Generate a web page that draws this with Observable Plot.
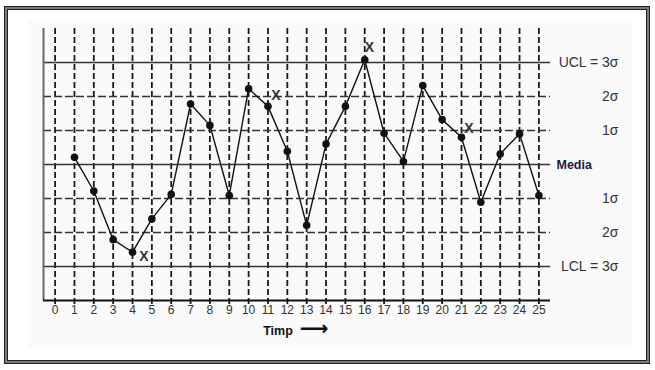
<!DOCTYPE html>
<html>
<head>
<meta charset="utf-8">
<script src="https://cdn.jsdelivr.net/npm/d3@7"></script>
<script src="https://cdn.jsdelivr.net/npm/@observablehq/plot@0.6"></script>
<style>
  html, body { margin: 0; padding: 0; background: #fff; }
  #wrap { position: relative; width: 655px; height: 370px; overflow: hidden; }
  #frame { position: absolute; left: 4px; top: 6px; width: 646px; height: 358px; box-sizing: border-box;
           border: 1px solid #222; background: #7a7a7a; padding: 2px; }
  #frame > div { width: 100%; height: 100%; box-sizing: border-box; border: 1px solid #222; background: #fff; }
  #paper { position: absolute; left: 28px; top: 21px; width: 604px; height: 326px; background: #fafafa; }
  #chart { position: absolute; left: 0; top: 0; }
</style>
</head>
<body>
<div id="wrap">
  <div id="frame"><div></div></div>
  <div id="paper"></div>
  <div id="chart"></div>
</div>
<script>
// ---- data ----
const times = [1,2,3,4,5,6,7,8,9,10,11,12,13,14,15,16,17,18,19,20,21,22,23,24,25];
const values = [0.21,-0.78,-2.21,-2.58,-1.6,-0.88,1.78,1.15,-0.91,2.23,1.71,0.39,-1.79,0.6,1.71,3.08,0.92,0.09,2.32,1.32,0.8,-1.11,0.31,0.9,-0.91];
const xTicks = [0,1,2,3,4,5,6,7,8,9,10,11,12,13,14,15,16,17,18,19,20,21,22,23,24,25];
const solidLevels = [3, 0, -3];
const dashedLevels = [2, 1, -1, -2];
const sigmaLevels = [3, 2, 1, -1, -2, -3];
const sigmaLabels = ["UCL = 3σ", "2σ", "1σ", "1σ", "2σ", "LCL = 3σ"];
const centerLevel = [0];
const centerLabel = ["Media"];
const flagT = [4.59, 11.41, 16.24, 21.39];
const flagV = [-2.7, 2.03, 3.45, 1.07];
const xLabel = "Timp";
const xDomain = [-0.6, 25.6];
const yDomain = [-4, 4];

const plot = Plot.plot({
  width: 655,
  height: 370,
  marginLeft: 43,
  marginRight: 105,
  marginTop: 28,
  marginBottom: 70,
  style: {background: "transparent", fontFamily: "'Liberation Sans', Arial, sans-serif", color: "#222", overflow: "visible"},
  x: {domain: xDomain, axis: null},
  y: {domain: yDomain, axis: null},
  marks: [
    Plot.ruleX(xTicks, {x: d => d, y1: yDomain[1], y2: yDomain[0] - 0.13, stroke: "#1a1a1a", strokeWidth: 1.8, strokeDasharray: "6,3"}),
    Plot.ruleY(solidLevels, {y: d => d, stroke: "#333", strokeWidth: 1.3}),
    Plot.ruleY(dashedLevels, {y: d => d, stroke: "#333", strokeWidth: 1.4, strokeDasharray: "8,3"}),
    Plot.ruleX([xDomain[0]], {x: d => d, y1: yDomain[0], y2: yDomain[1], stroke: "#666", strokeWidth: 2}),
    Plot.ruleY([yDomain[0]], {y: d => d, stroke: "#111", strokeWidth: 2}),
    Plot.line(times, {x: times, y: values, stroke: "#111", strokeWidth: 1.4}),
    Plot.dot(times, {x: times, y: values, r: 3.8, fill: "#111", stroke: "none"}),
    Plot.text(flagT, {x: flagT, y: flagV, text: flagT.map(() => "X"), fontSize: 14, fontWeight: "bold", fill: "#333"}),
    Plot.text(xTicks, {x: d => d, frameAnchor: "bottom", dy: 13, text: d => String(d), fontSize: 12, fill: "#333"}),
    Plot.text(sigmaLabels, {y: sigmaLevels, text: sigmaLabels, frameAnchor: "right", dx: 68, textAnchor: "end", fontSize: 14, fill: "#333"}),
    Plot.text(centerLabel, {y: centerLevel, text: centerLabel, frameAnchor: "right", dx: 6, textAnchor: "start", fontSize: 12.5, fontWeight: "bold", fill: "#1c1c40"}),
    Plot.text([xLabel], {frameAnchor: "bottom", dx: -19, dy: 34, text: d => d, fontSize: 12.5, fontWeight: "bold", fill: "#111"}),
    Plot.text(["⟶"], {frameAnchor: "bottom", dx: 17, dy: 34, text: d => d, fontSize: 20, fontWeight: "bold", fontFamily: "DejaVu Sans", fill: "#111"})
  ]
});
document.getElementById("chart").appendChild(plot);
</script>
</body>
</html>
